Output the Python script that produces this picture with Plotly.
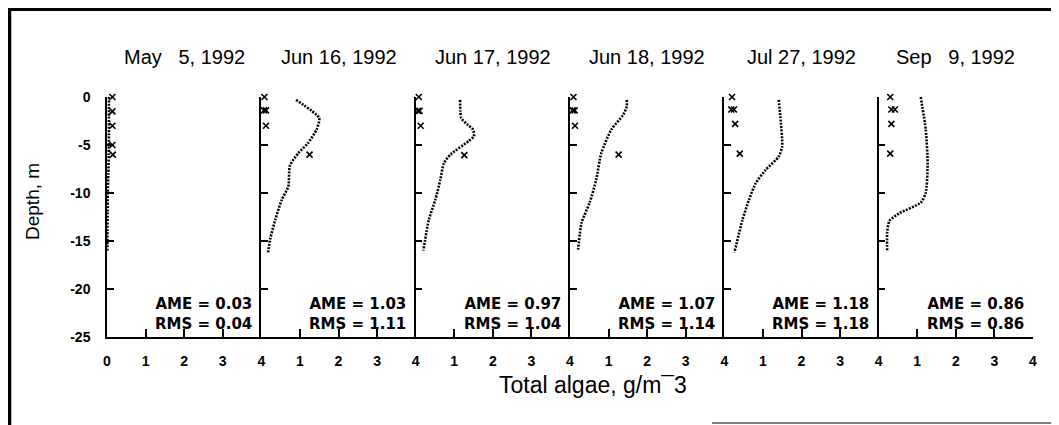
import plotly.graph_objects as go
from plotly.subplots import make_subplots

# ---------------- data ----------------
dates = ["May\u00a0\u00a0\u00a05, 1992", "Jun 16, 1992", "Jun 17, 1992",
         "Jun 18, 1992", "Jul 27, 1992", "Sep\u00a0\u00a0\u00a09, 1992"]

# model profiles (total algae g/m^3 vs depth m)
model_val_1 = [0.05, 0.05, 0.05, 0.045, 0.035, 0.02, 0.015, 0.01, 0.01]
model_dep_1 = [0, -2, -4, -6, -8, -10, -12, -14, -16]
model_val_2 = [0.90, 1.50, 1.43, 1.21, 0.96, 0.74, 0.70, 0.53, 0.36, 0.23, 0.17]
model_dep_2 = [-0.3, -2.2, -3.4, -4.8, -5.85, -7.15, -9.3, -10.7, -12.8, -14.8, -16.3]
model_val_3 = [1.15, 1.16, 1.18, 1.35, 1.49, 1.51, 1.37, 0.90, 0.73, 0.64, 0.51, 0.34, 0.20]
model_dep_3 = [-0.3, -1.5, -2.2, -2.9, -3.4, -4.1, -4.6, -6.0, -6.9, -8.6, -10.7, -12.8, -16.0]
model_val_4 = [1.47, 1.47, 1.37, 1.07, 0.81, 0.68, 0.51, 0.30, 0.21]
model_dep_4 = [-0.3, -1.0, -1.9, -3.4, -5.85, -8.6, -11.0, -13.1, -15.9]
model_val_5 = [1.41, 1.45, 1.50, 1.41, 1.07, 0.81, 0.64, 0.47, 0.26]
model_dep_5 = [-0.3, -2.0, -5.15, -6.2, -7.6, -9.0, -10.7, -12.8, -16.2]
model_val_6 = [1.09, 1.22, 1.27, 1.22, 1.09, 0.54, 0.28, 0.22, 0.22]
model_dep_6 = [0, -3.4, -6.9, -10.0, -11.0, -12.1, -12.9, -14.1, -16.0]

# observations
obs_val_1 = [0.14, 0.14, 0.14, 0.14, 0.15]
obs_dep_1 = [0, -1.5, -3.0, -5.0, -6.0]
obs_val_2 = [0.08, 0.07, 0.12, 0.12, 1.25]
obs_dep_2 = [0, -1.4, -1.4, -3.0, -6.0]
obs_val_3 = [0.08, 0.06, 0.10, 0.13, 1.26]
obs_dep_3 = [0, -1.45, -1.45, -3.0, -6.05]
obs_val_4 = [0.09, 0.07, 0.12, 0.13, 1.26]
obs_dep_4 = [0, -1.4, -1.4, -3.0, -6.0]
obs_val_5 = [0.20, 0.18, 0.25, 0.28, 0.40]
obs_dep_5 = [0, -1.3, -1.3, -2.8, -5.9]
obs_val_6 = [0.30, 0.33, 0.42, 0.33, 0.30]
obs_dep_6 = [0, -1.3, -1.3, -2.8, -5.9]

ame = ["0.03", "1.03", "0.97", "1.07", "1.18", "0.86"]
rms = ["0.04", "1.11", "1.04", "1.14", "1.18", "0.86"]

y_ticks = [0, -5, -10, -15, -20, -25]
y_ticklabels = ["0", "-5", "-10", "-15", "-20", "-25"]
x_ticks_first = [0, 1, 2, 3, 4]
x_ticks_other = [1, 2, 3, 4]

models = [(model_val_1, model_dep_1), (model_val_2, model_dep_2), (model_val_3, model_dep_3),
          (model_val_4, model_dep_4), (model_val_5, model_dep_5), (model_val_6, model_dep_6)]
obs = [(obs_val_1, obs_dep_1), (obs_val_2, obs_dep_2), (obs_val_3, obs_dep_3),
       (obs_val_4, obs_dep_4), (obs_val_5, obs_dep_5), (obs_val_6, obs_dep_6)]

# ---------------- layout geometry ----------------
# page body adds an 8px offset; figure coords = screen coords - 8
OFF = 8
W, H = 1051, 417
L, T = 107 - OFF, 97 - OFF
R = W - (1033 - OFF)
B = H - (337 - OFF)
PW, PH = W - L - R, H - T - B


def px(xs):
    return (xs - OFF - L) / PW


def py(ys):
    return (H - B - (ys - OFF)) / PH


FONT = "Liberation Sans, Arial, sans-serif"

fig = make_subplots(rows=1, cols=6, shared_yaxes=True, horizontal_spacing=0)

for i in range(6):
    mv, md = models[i]
    ov, od = obs[i]
    fig.add_trace(go.Scatter(x=mv, y=md, mode="lines",
                             line=dict(color="black", width=2.6, dash="2px,1.3px", shape="spline", smoothing=0.6),
                             cliponaxis=False, showlegend=False, hoverinfo="skip"),
                  row=1, col=i + 1)
    fig.add_trace(go.Scatter(x=ov, y=od, mode="markers",
                             marker=dict(symbol="x-thin", size=6, line=dict(color="black", width=1.6)),
                             cliponaxis=False, showlegend=False, hoverinfo="skip"),
                  row=1, col=i + 1)

    tv = x_ticks_first if i == 0 else x_ticks_other
    fig.update_xaxes(range=[0, 4], tickvals=tv, ticktext=[str(v) for v in tv],
                     ticks="inside", ticklen=8, tickwidth=1.5, tickcolor="black",
                     showline=True, linecolor="black", linewidth=1.5,
                     showgrid=False, zeroline=False, mirror=False, automargin=False,
                     tickfont=dict(family=FONT, size=14, color="black", weight="bold"),
                     ticklabelstandoff=10,
                     row=1, col=i + 1)
    fig.update_yaxes(range=[-25, 0], tickvals=y_ticks, ticktext=y_ticklabels,
                     ticks="inside", ticklen=7, tickwidth=1.5, tickcolor="black",
                     showline=True, linecolor="black", linewidth=1.5,
                     showgrid=False, zeroline=False, mirror=False, automargin=False,
                     showticklabels=(i == 0),
                     tickfont=dict(family=FONT, size=14, color="black", weight="bold"),
                     ticklabelstandoff=12,
                     row=1, col=i + 1)

annotations = []
for i in range(6):
    xr = "x" if i == 0 else f"x{i+1}"
    yr = "y" if i == 0 else f"y{i+1}"
    x0 = i / 6
    annotations.append(dict(text=dates[i], xref="paper", yref="paper",
                            x=x0 + 1 / 12, y=py(57), xanchor="center", yanchor="middle",
                            showarrow=False, font=dict(family=FONT, size=20, color="black")))
    annotations.append(dict(text=f"AME = {ame[i]}<br>RMS = {rms[i]}", xref=xr, yref=yr,
                            x=3.78, y=py(314), yref_=None, xanchor="right", yanchor="middle",
                            align="right", showarrow=False, borderpad=0,
                            font=dict(family="DejaVu Sans, sans-serif", size=15, color="black",
                                      weight="bold")))

# fix yref of stats annotations to paper (y given in paper coords)
for a in annotations:
    if "yref_" in a:
        a.pop("yref_")
        a["yref"] = "paper"

annotations.append(dict(text="Depth, m", xref="paper", yref="paper", x=px(32), y=py(202),
                        xanchor="center", yanchor="middle", textangle=-90, showarrow=False,
                        font=dict(family=FONT, size=19, color="black")))
annotations.append(dict(text="Total algae, g/m\u00af3", xref="paper", yref="paper", x=px(593), y=py(385),
                        xanchor="center", yanchor="middle", showarrow=False,
                        font=dict(family=FONT, size=23, color="black")))

shapes = [
    dict(type="line", xref="paper", yref="paper", x0=px(7), x1=px(1059), y0=py(9.5), y1=py(9.5),
         line=dict(color="black", width=3)),
    dict(type="line", xref="paper", yref="paper", x0=px(9.5), x1=px(9.5), y0=py(8), y1=py(425),
         line=dict(color="black", width=3.5)),
    dict(type="line", xref="paper", yref="paper", x0=px(712), x1=px(1059), y0=py(423), y1=py(423),
         line=dict(color="#555555", width=1.5)),
]

fig.update_layout(width=W, height=H, margin=dict(l=L, r=R, t=T, b=B),
                  paper_bgcolor="white", plot_bgcolor="white",
                  annotations=annotations, shapes=shapes, showlegend=False)

fig.write_html("out.html")
